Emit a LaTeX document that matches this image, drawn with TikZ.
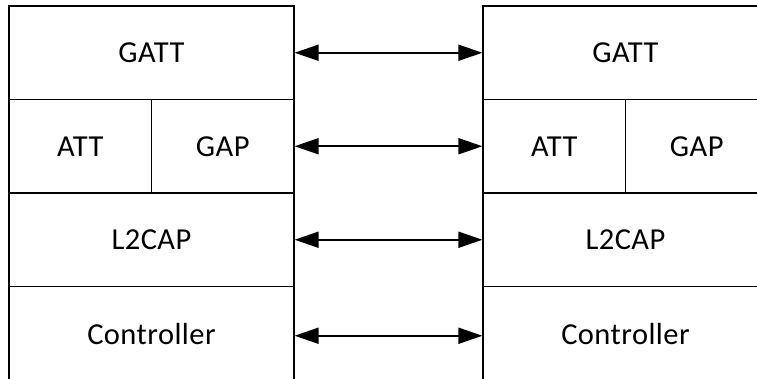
\documentclass[tikz,border=0pt]{standalone}
\usepackage{fontspec}
\setmainfont{Carlito}
\usetikzlibrary{arrows.meta}
\begin{document}
\begin{tikzpicture}[x=1pt,y=-1pt,
  layer/.style={draw=black, line width=1.3pt, rectangle, inner sep=0pt, outer sep=0pt,
    minimum height=93.5pt, font=\fontsize{30.5}{36}\selectfont\addfontfeatures{LetterSpace=1.5}, text=black},
  full/.style={layer, minimum width=285pt},
  half/.style={layer, minimum width=142.5pt},
  link/.style={line width=1.8pt, {Triangle[length=24pt,width=16pt]}-{Triangle[length=24pt,width=16pt]}, shorten <=0.6pt, shorten >=0.6pt}]
\useasboundingbox (0,0) rectangle (757,379);
\clip (0,0) rectangle (757,379);
\fill[white] (0,0) rectangle (757,379);
% left stack
\node[full] (LGATT) at (151.5,52.75) {GATT};
\node[half] (LATT) at (80.25,146.25) {ATT};
\node[half] (LGAP) at (222.75,146.25) {GAP};
\node[full] (LL2CAP) at (151.5,239.75) {L2CAP};
\node[full, minimum height=96pt] (LCTRL) at (151.5,334.5) {\raisebox{1.2pt}{Controller}};
% right stack
\node[full] (RGATT) at (625.5,52.75) {GATT};
\node[half] (RATT) at (554.25,146.25) {ATT};
\node[half] (RGAP) at (696.75,146.25) {GAP};
\node[full] (RL2CAP) at (625.5,239.75) {L2CAP};
\node[full, minimum height=96pt] (RCTRL) at (625.5,334.5) {\raisebox{1.2pt}{Controller}};
% links
\draw[link] (LGATT.east) -- (RGATT.west);
\draw[link] (LGAP.east) -- (RATT.west);
\draw[link] (LL2CAP.east) -- (RL2CAP.west);
\draw[link] ([yshift=-1.25pt]LCTRL.east) -- ([yshift=-1.25pt]RCTRL.west);
\end{tikzpicture}
\end{document}
